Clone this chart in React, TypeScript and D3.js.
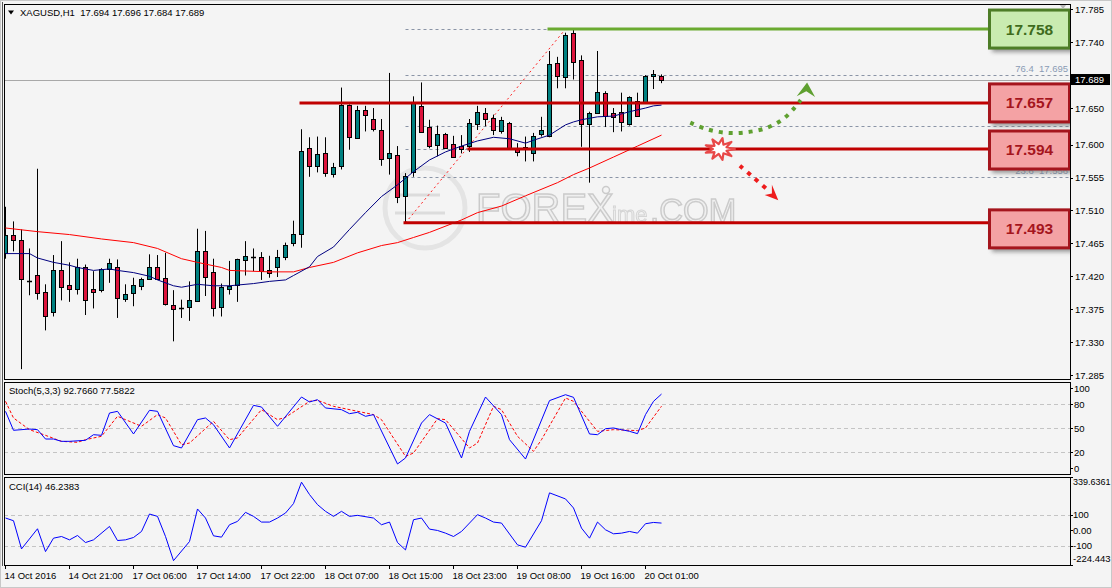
import * as d3 from 'd3';

// XAGUSD H1 candles, bar 0 = 14 Oct 2016 13:00
const opens = [17.451, 17.476, 17.469, 17.414, 17.422, 17.398, 17.371, 17.429, 17.408, 17.403, 17.433, 17.403, 17.401, 17.430, 17.433, 17.389, 17.397, 17.406, 17.417, 17.433, 17.418, 17.381, 17.375, 17.378, 17.387, 17.455, 17.426, 17.378, 17.403, 17.407, 17.442, 17.447, 17.447, 17.428, 17.433, 17.447, 17.466, 17.478, 17.595, 17.571, 17.588, 17.560, 17.571, 17.654, 17.610, 17.647, 17.635, 17.620, 17.581, 17.586, 17.529, 17.562, 17.653, 17.624, 17.599, 17.615, 17.601, 17.598, 17.598, 17.628, 17.643, 17.636, 17.619, 17.629, 17.596, 17.594, 17.589, 17.615, 17.611, 17.711, 17.693, 17.752, 17.715, 17.628, 17.643, 17.671, 17.643, 17.644, 17.628, 17.660, 17.659, 17.694, 17.694];
const highs = [17.515, 17.495, 17.484, 17.458, 17.567, 17.409, 17.449, 17.468, 17.439, 17.444, 17.436, 17.427, 17.431, 17.444, 17.443, 17.409, 17.418, 17.418, 17.450, 17.449, 17.452, 17.401, 17.388, 17.413, 17.485, 17.482, 17.444, 17.410, 17.441, 17.444, 17.468, 17.458, 17.453, 17.448, 17.456, 17.466, 17.496, 17.621, 17.610, 17.611, 17.610, 17.575, 17.678, 17.655, 17.653, 17.653, 17.650, 17.635, 17.698, 17.598, 17.561, 17.666, 17.685, 17.634, 17.626, 17.616, 17.612, 17.613, 17.635, 17.653, 17.650, 17.641, 17.638, 17.631, 17.602, 17.611, 17.616, 17.638, 17.728, 17.720, 17.753, 17.757, 17.722, 17.645, 17.728, 17.673, 17.650, 17.671, 17.666, 17.671, 17.695, 17.702, 17.696];
const lows = [17.444, 17.454, 17.293, 17.394, 17.388, 17.346, 17.365, 17.387, 17.385, 17.395, 17.367, 17.376, 17.398, 17.411, 17.363, 17.385, 17.379, 17.401, 17.415, 17.415, 17.380, 17.331, 17.363, 17.359, 17.386, 17.393, 17.365, 17.365, 17.395, 17.385, 17.421, 17.427, 17.415, 17.418, 17.419, 17.442, 17.461, 17.459, 17.556, 17.562, 17.556, 17.555, 17.566, 17.593, 17.609, 17.618, 17.618, 17.571, 17.559, 17.520, 17.494, 17.556, 17.617, 17.595, 17.584, 17.595, 17.582, 17.588, 17.590, 17.620, 17.625, 17.613, 17.615, 17.594, 17.584, 17.577, 17.577, 17.611, 17.610, 17.677, 17.677, 17.689, 17.597, 17.548, 17.642, 17.624, 17.617, 17.618, 17.626, 17.638, 17.658, 17.676, 17.684];
const closes = [17.476, 17.469, 17.416, 17.413, 17.398, 17.365, 17.429, 17.406, 17.403, 17.433, 17.388, 17.399, 17.430, 17.438, 17.391, 17.396, 17.408, 17.416, 17.433, 17.416, 17.382, 17.376, 17.377, 17.388, 17.455, 17.420, 17.377, 17.406, 17.407, 17.443, 17.448, 17.447, 17.428, 17.424, 17.446, 17.463, 17.478, 17.591, 17.570, 17.587, 17.560, 17.570, 17.654, 17.610, 17.648, 17.640, 17.622, 17.581, 17.588, 17.529, 17.557, 17.658, 17.618, 17.598, 17.614, 17.596, 17.583, 17.594, 17.629, 17.644, 17.635, 17.620, 17.634, 17.595, 17.590, 17.597, 17.612, 17.620, 17.710, 17.693, 17.750, 17.712, 17.628, 17.643, 17.672, 17.640, 17.638, 17.631, 17.665, 17.640, 17.694, 17.697, 17.689];

// moving averages: [bar, price]
const maFast: [number, number][] = [[0, 17.451], [3, 17.451], [4, 17.445], [6, 17.439], [8, 17.435], [9, 17.432], [11, 17.428], [13, 17.43], [14, 17.428], [16, 17.425], [18, 17.42], [19, 17.415], [21, 17.407], [22, 17.405], [24, 17.409], [26, 17.407], [28, 17.407], [31, 17.41], [33, 17.413], [35, 17.415], [36, 17.421], [38, 17.433], [39, 17.447], [41, 17.46], [43, 17.484], [45, 17.507], [47, 17.529], [49, 17.545], [51, 17.563], [53, 17.579], [55, 17.59], [57, 17.598], [59, 17.605], [61, 17.61], [63, 17.608], [65, 17.602], [66, 17.606], [68, 17.613], [70, 17.627], [71, 17.631], [72, 17.634], [74, 17.638], [76, 17.639], [78, 17.645], [80, 17.65], [81, 17.653], [82, 17.654]];
const maSlow: [number, number][] = [[0, 17.486], [4, 17.481], [8, 17.477], [12, 17.471], [16, 17.466], [19, 17.458], [22, 17.444], [24, 17.439], [27, 17.432], [28, 17.428], [33, 17.426], [36, 17.426], [38, 17.432], [41, 17.439], [44, 17.452], [47, 17.462], [49, 17.466], [51, 17.473], [53, 17.48], [57, 17.497], [59, 17.507], [62, 17.516], [65, 17.53], [69, 17.548], [71, 17.559], [73, 17.568], [76, 17.583], [79, 17.598], [82, 17.613]];

// Stochastic (5,3,3)
const stochMain: [number, number][] = [[0, 71.2], [1, 47.5], [3, 49.1], [4, 48.3], [5, 36.6], [6, 36.6], [7, 33.7], [8, 33.7], [10, 35], [11, 42], [12, 41.2], [13, 69.1], [14, 71.2], [16, 42.9], [18, 72.5], [19, 71.2], [21, 28.3], [22, 25.4], [24, 60.8], [25, 62.9], [26, 54.5], [28, 25.4], [31, 78.7], [32, 76.6], [34, 52.5], [37, 89.1], [38, 82.9], [39, 85.8], [40, 75.4], [42, 73.3], [43, 68.3], [44, 70], [45, 65], [46, 67.1], [49, 5.4], [50, 12.9], [52, 56.6], [53, 67.1], [55, 56.6], [57, 12.9], [58, 46.2], [60, 89.1], [62, 67.1], [63, 35.8], [65, 11.6], [68, 84.6], [70, 92], [71, 88.7], [73, 42.9], [74, 42], [75, 49.5], [76, 50.4], [77, 48.3], [78, 46.2], [79, 43.3], [80, 67.1], [81, 83.7], [82, 92.766]];
const stochSignal: [number, number][] = [[0, 83.7], [1, 62.9], [3, 48.3], [5, 41.2], [7, 33.7], [9, 32.5], [10, 35.8], [12, 40], [14, 65], [15, 60.8], [17, 52.5], [19, 67.1], [20, 62.9], [22, 29.5], [23, 31.6], [26, 58.7], [28, 35.8], [29, 37.9], [32, 73.3], [34, 60.8], [35, 63.7], [38, 83.7], [39, 85], [41, 77.5], [46, 67.1], [47, 60.8], [50, 14.9], [51, 19.1], [54, 62], [55, 60.8], [58, 25.4], [59, 31.6], [61, 77.5], [62, 73.3], [64, 40], [66, 21.2], [67, 35.8], [70, 87.9], [71, 83.7], [74, 46.2], [76, 48.3], [79, 47.1], [80, 50.4], [82, 77.5822]];

// CCI(14)
const cci: [number, number][] = [[0, 78.7], [1, 61.3], [2, -119.4], [4, 9.7], [5, -136.6], [6, -50.5], [7, -39.8], [8, -61.3], [9, -33.3], [10, -78.5], [11, -61.3], [13, 24.7], [14, -65.6], [15, -61.3], [16, -46.2], [17, -7.5], [18, 104.3], [19, 89.2], [20, -39.8], [21, -194.6], [23, -72], [24, 136.6], [25, 78.5], [26, -35.5], [27, -44], [28, 35.5], [29, 57], [30, 115], [31, 89.2], [32, 52.7], [33, 52.7], [34, 78.5], [35, 110.8], [36, 171], [37, 308.4], [38, 229], [39, 164.5], [40, 121.5], [41, 89.2], [42, 121.5], [43, 89.2], [44, 95.7], [46, 78.5], [47, 35.5], [48, 52.7], [49, -78.5], [50, -125.8], [51, 67.7], [52, 78.5], [53, 7.5], [54, -1.1], [55, -18.3], [56, -39.8], [57, -7.5], [59, 100], [60, 78.5], [61, 52.7], [62, 46.2], [64, -93.5], [65, -108.6], [67, 61.3], [68, 240], [70, 201], [71, 143], [72, 14], [73, -50.5], [74, 52.7], [75, 3.2], [76, -22.6], [77, -18.3], [78, -7.5], [79, -18.3], [80, 42], [81, 50.3], [82, 46.2383]];

const timeLabels = ['14 Oct 2016', '14 Oct 21:00', '17 Oct 06:00', '17 Oct 14:00', '17 Oct 22:00', '18 Oct 07:00', '18 Oct 15:00', '18 Oct 23:00', '19 Oct 08:00', '19 Oct 16:00', '20 Oct 01:00'];
const priceTicks = [17.785, 17.74, 17.695, 17.65, 17.6, 17.555, 17.51, 17.465, 17.42, 17.375, 17.33, 17.285];
const stochTicks = [100, 80, 50, 20, 0];
const cciTicks = ['339.6361', '100', '0.00', '-100', '-224.443'];
const cciTickValues = [339.6361, 100, 0, -100, -224.443];

// support / resistance levels and the fibonacci grid
const levels = [17.758, 17.657, 17.594, 17.493];
const levelStart = [68, 37, 58, 50];
const fibRatios = [100, 76.4, 61.8, 50, 38.2, 23.6, 0];
const fibLabelled = [76.4, 23.6];
const fibLow = 17.493;
const fibHigh = 17.758;

const FONT = "'Liberation Sans', Arial, sans-serif";

export default function App() {
  const W = 1112;
  const H = 588;
  const left = 4;
  const right = 1070;

  const x = d3.scaleLinear().domain([0, 82]).range([5.5, 661.5]);
  const y = d3.scaleLinear().domain([17.285, 17.785]).range([375, 9.3]);
  const ys = d3.scaleLinear().domain([0, 100]).range([468.3, 388.3]);
  const yc = d3.scaleLinear().domain([-224.443, 339.6361]).range([565.3, 477.3]);

  const priceLine = d3.line<[number, number]>().x((d) => x(d[0])).y((d) => y(d[1]));
  const stochLine = d3.line<[number, number]>().x((d) => x(d[0])).y((d) => ys(d[1]));
  const cciLine = d3.line<[number, number]>().x((d) => x(d[0])).y((d) => yc(d[1]));

  const fibLevels = fibRatios.map((r) => fibLow + ((fibHigh - fibLow) * r) / 100);

  // annotation arrows, in bar / price units
  const greenArrow: [number, number][] = [[85.6, 17.63], [87.7, 17.621], [90.2, 17.616], [92.7, 17.617], [95.2, 17.623], [97.2, 17.635], [98.6, 17.65], [99.4, 17.661]];
  const redArrow: [number, number][] = [[91.8, 17.571], [93.5, 17.555], [95.4, 17.537]];
  const curve = d3.line<[number, number]>().x((d) => x(d[0])).y((d) => y(d[1])).curve(d3.curveCatmullRom);

  const star = (cx: number, cy: number) => {
    const pts: string[] = [];
    const n = 9;
    for (let i = 0; i < n * 2; i++) {
      const a = (Math.PI * i) / n;
      const rx = i % 2 === 0 ? 15 : 7;
      const ry = i % 2 === 0 ? 11 : 5;
      pts.push(`${cx + Math.cos(a) * rx},${cy + Math.sin(a) * ry}`);
    }
    return pts.join(' ');
  };

  const boxes = [
    { v: levels[0], off: 0, fill: '#c9ebb0', stroke: '#4d7d27', text: '#3f6b1d' },
    { v: levels[1], off: 0, fill: '#f4a2a4', stroke: '#a5151d', text: '#a5151d' },
    { v: levels[2], off: 1, fill: '#f4a2a4', stroke: '#a5151d', text: '#a5151d' },
    { v: levels[3], off: 6, fill: '#f4a2a4', stroke: '#a5151d', text: '#a5151d' },
  ];

  const bid = closes[closes.length - 1];

  return (
    <svg width={W} height={H} style={{ position: 'absolute', left: 0, top: 0, background: '#f4f4f4' }} fontFamily={FONT}>
      <defs>
        <filter id="blur" x="-10%" y="-100%" width="120%" height="300%">
          <feGaussianBlur stdDeviation="1.6" />
        </filter>
        <filter id="blurBox" x="-20%" y="-40%" width="150%" height="190%">
          <feGaussianBlur stdDeviation="2" />
        </filter>
        <clipPath id="mainClip">
          <rect x={left} y={4} width={right - left} height={375} />
        </clipPath>
      </defs>
      <rect x={0.5} y={0.5} width={W - 1} height={H - 1} fill="#f4f4f4" stroke="#c8c8c8" />

      {/* watermark */}
      <g opacity={0.85}>
        <circle cx={425} cy={208} r={40} fill="none" stroke="#e2e2e2" strokeWidth={5} />
        <line x1={395} x2={440} y1={195} y2={195} stroke="#d8d8d8" strokeWidth={3} />
        <line x1={395} x2={445} y1={213} y2={213} stroke="#d8d8d8" strokeWidth={3} />
        <text x={476} y={222} fontSize={40} fill="#efefef" stroke="#c4c4c4" strokeWidth={1.4}>FOREX</text>
        <circle cx={606} cy={190} r={3.5} fill="none" stroke="#c4c4c4" strokeWidth={1.5} />
        <text x={612} y={222} fontSize={22} fill="#f0f0f0" stroke="#d0d0d0" strokeWidth={1}>ime</text>
        <text x={650} y={222} fontSize={33} fill="#efefef" stroke="#c4c4c4" strokeWidth={1.4}>.COM</text>
      </g>

      <g clipPath="url(#mainClip)">
        {/* fibonacci */}
        <line x1={x(50)} y1={y(fibLow)} x2={x(70)} y2={y(fibHigh)} stroke="#ff2020" strokeWidth={1} strokeDasharray="2,3" />
        {fibLevels.map((v, i) => (
          <g key={'fib' + i}>
            <line x1={x(50)} x2={right} y1={Math.round(y(v)) + 0.5} y2={Math.round(y(v)) + 0.5} stroke="#8a94a6" strokeDasharray="3,3" />
            {fibLabelled.includes(fibRatios[i]) && (
              <text x={1068} y={y(v) - 3} textAnchor="end" fontSize={9.5} fill="#8a9bb4" style={{ whiteSpace: 'pre' }}>
                {`${fibRatios[i].toFixed(1)}  ${v.toFixed(3)}`}
              </text>
            )}
          </g>
        ))}
        {/* bid line */}
        <line x1={left} x2={right} y1={Math.round(y(bid)) + 0.5} y2={Math.round(y(bid)) + 0.5} stroke="#a8a8a8" />

        {/* candles */}
        {opens.map((o, i) => {
          const c = closes[i];
          const cx = x(i);
          const top = y(Math.max(o, c));
          const bot = y(Math.min(o, c));
          const bull = c > o;
          return (
            <g key={'c' + i}>
              <line x1={cx} x2={cx} y1={y(highs[i])} y2={y(lows[i])} stroke="#000" />
              {bot - top < 1.5 ? (
                <line x1={cx - 2.5} x2={cx + 2.5} y1={Math.round(top) + 0.5} y2={Math.round(top) + 0.5} stroke="#000" strokeWidth={1.5} />
              ) : (
                <rect x={cx - 2} y={Math.round(top) + 0.5} width={4} height={Math.max(1, Math.round(bot - top))} fill={bull ? '#008080' : '#dc143c'} stroke="#000" />
              )}
            </g>
          );
        })}

        {/* moving averages */}
        <path d={priceLine(maSlow) ?? ''} fill="none" stroke="#ff0000" strokeWidth={1} />
        <path d={priceLine(maFast) ?? ''} fill="none" stroke="#000080" strokeWidth={1} />

        {/* level lines with shadow */}
        {levels.map((v, i) => (
          <g key={'lv' + i}>
            <line x1={x(levelStart[i]) + 6} x2={990} y1={y(v) + 5} y2={y(v) + 5} stroke="#8c8c8c" strokeWidth={4} opacity={0.55} filter="url(#blur)" />
            <line x1={x(levelStart[i]) - 2} x2={990} y1={y(v)} y2={y(v)} stroke={i === 0 ? '#6aaa30' : '#c00000'} strokeWidth={3} />
          </g>
        ))}

        {/* arrows */}
        <path d={curve(greenArrow) ?? ''} fill="none" stroke="#5fa030" strokeWidth={4} strokeDasharray="4,6" />
        <polygon points={`${x(100.2)},${y(17.685)} ${x(98.9)},${y(17.666)} ${x(100.1)},${y(17.673)} ${x(101.2)},${y(17.665)}`} fill="#5fa030" />
        <path d={curve(redArrow) ?? ''} fill="none" stroke="#ee1c1c" strokeWidth={4} strokeDasharray="4,6" />
        <polygon points={`${x(96.6)},${y(17.524)} ${x(94.9)},${y(17.531)} ${x(95.8)},${y(17.533)} ${x(95.8)},${y(17.545)}`} fill="#ee1c1c" />
        <polygon points={star(x(89.3), y(17.594))} fill="#ffffff" stroke="#e84848" strokeWidth={2.2} strokeLinejoin="round" />

        {/* level boxes */}
        {boxes.map((b, i) => {
          const cy = y(b.v) + b.off;
          return (
            <g key={'bx' + i}>
              <rect x={992} y={cy - 16} width={82} height={39} fill="#6e6e6e" opacity={0.7} filter="url(#blurBox)" />
              <rect x={989.5} y={cy - 19} width={80} height={38} fill={b.fill} stroke={b.stroke} strokeWidth={3} />
              <text x={1029.5} y={cy + 5.5} textAnchor="middle" fontSize={15.5} fontWeight="bold" fill={b.text}>
                {b.v.toFixed(3)}
              </text>
            </g>
          );
        })}
      </g>

      {/* chart shift marker */}
      <polygon points="1059,4 1067,4 1063,9" fill="#b8b8b8" />

      {/* header */}
      <polygon points="8,10.5 14,10.5 11,14.5" fill="#000" />
      <text x={20} y={16} fontSize={9.5} fill="#000" style={{ whiteSpace: 'pre' }}>
        {`XAGUSD,H1  ${opens[82].toFixed(3)} ${highs[82].toFixed(3)} ${lows[82].toFixed(3)} ${closes[82].toFixed(3)}`}
      </text>

      {/* stochastic panel */}
      {[80, 50, 20].map((v) => (
        <line key={'sl' + v} x1={left} x2={right} y1={Math.round(ys(v)) + 0.5} y2={Math.round(ys(v)) + 0.5} stroke="#c4c4c4" strokeDasharray="4,3" />
      ))}
      <path d={stochLine(stochSignal) ?? ''} fill="none" stroke="#ff0000" strokeDasharray="3,2" />
      <path d={stochLine(stochMain) ?? ''} fill="none" stroke="#0000ff" />
      <text x={9} y={394} fontSize={9.5} fill="#000">Stoch(5,3,3) 92.7660 77.5822</text>

      {/* CCI panel */}
      {[100, -100].map((v) => (
        <line key={'cl' + v} x1={left} x2={right} y1={Math.round(yc(v)) + 0.5} y2={Math.round(yc(v)) + 0.5} stroke="#c4c4c4" strokeDasharray="4,3" />
      ))}
      <path d={cciLine(cci) ?? ''} fill="none" stroke="#0000ff" />
      <text x={9} y={489.5} fontSize={9.5} fill="#000">CCI(14) 46.2383</text>

      {/* panel frames */}
      <rect x={left + 0.5} y={4.5} width={right - left} height={375} fill="none" stroke="#000" />
      <rect x={left + 0.5} y={382.5} width={right - left} height={92} fill="none" stroke="#000" />
      <rect x={left + 0.5} y={477.5} width={right - left} height={88} fill="none" stroke="#000" />
      <line x1={2.5} x2={2.5} y1={2} y2={566} stroke="#555" />

      {/* right price axis */}
      {priceTicks.map((v) => (
        <g key={'pt' + v}>
          <line x1={right} x2={right + 3} y1={Math.round(y(v)) + 0.5} y2={Math.round(y(v)) + 0.5} stroke="#000" />
          {v !== 17.695 && <text x={1075} y={y(v) + 3.5} fontSize={9.5} fill="#000">{v.toFixed(3)}</text>}
        </g>
      ))}
      <rect x={1071} y={y(bid) - 5.5} width={39} height={11} fill="#000" />
      <text x={1075} y={y(bid) + 3.5} fontSize={9.5} fill="#fff">{bid.toFixed(3)}</text>

      {stochTicks.map((v) => (
        <g key={'st' + v}>
          <line x1={right} x2={right + 3} y1={Math.round(ys(v)) + 0.5} y2={Math.round(ys(v)) + 0.5} stroke="#000" />
          <text x={1074} y={ys(v) + 3.5} fontSize={9.5} fill="#000">{v}</text>
        </g>
      ))}
      {cciTickValues.map((v, i) => (
        <g key={'ct' + i}>
          <line x1={right} x2={right + 3} y1={Math.round(yc(v)) + 0.5} y2={Math.round(yc(v)) + 0.5} stroke="#000" />
          <text x={1073} y={yc(v) + (i === 0 ? 8 : i === 4 ? -3.5 : 3.5)} fontSize={i === 0 ? 9 : 9.5} fill="#000">{cciTicks[i]}</text>
        </g>
      ))}

      {/* time axis */}
      {timeLabels.map((t, i) => (
        <g key={'tl' + i}>
          <line x1={x(i * 8)} x2={x(i * 8)} y1={566} y2={569} stroke="#000" />
          <text x={x(i * 8) - 1} y={578.5} fontSize={9.5} fill="#000">{t}</text>
        </g>
      ))}
    </svg>
  );
}
